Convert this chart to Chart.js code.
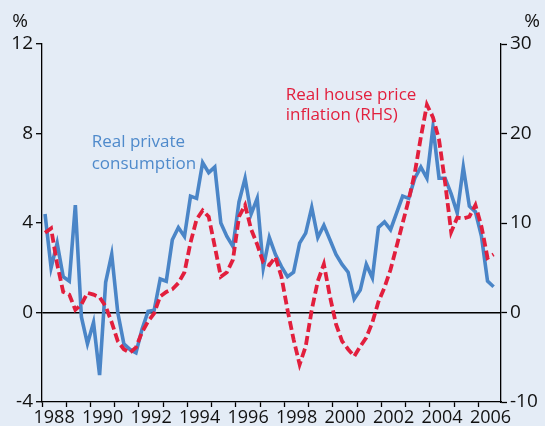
<!DOCTYPE html>
<html>
<head>
    <style>
        body {
            margin: 0;
            background-color: #e4ecf6;
        }
        #wrap {
            width: 545px;
            height: 426px;
        }
    </style>
    <script src="https://cdn.jsdelivr.net/npm/chart.js"></script>
</head>
<body>
    <div id="wrap"><canvas id="houseChart" width="545" height="426"></canvas></div>
    <script>
        // quarterly data, 1988 Q1 onwards
        var startYear = 1988;
        var consumption = [
            4.4, 2.0, 3.1, 1.6, 1.4, 4.8, -0.2, -1.4, -0.45, -2.8,
            1.35, 2.6, 0.0, -1.4, -1.65, -1.8, -0.75, 0.05, 0.1, 1.5,
            1.4, 3.25, 3.8, 3.4, 5.2, 5.1, 6.7, 6.25, 6.5, 4.0,
            3.4, 2.95, 4.95, 6.0, 4.4, 5.1, 2.0, 3.35, 2.6, 2.05,
            1.6, 1.8, 3.1, 3.55, 4.7, 3.35, 3.9, 3.25, 2.6, 2.15,
            1.8, 0.6, 1.0, 2.15, 1.55, 3.8, 4.05, 3.7, 4.45, 5.2,
            5.1, 6.0, 6.5, 6.0, 8.3, 6.0, 6.0, 5.3, 4.45, 6.5,
            4.75, 4.5, 3.4, 1.4, 1.15
        ];
        var housePrice = [
            8.9, 9.4, 5.4, 2.3, 2.0, 0.3, 0.9, 2.2, 2.0, 1.7,
            0.7, -1.1, -3.2, -4.1, -4.5, -3.9, -2.2, -1.0, -0.1, 1.8,
            2.3, 2.6, 3.3, 4.5, 7.8, 10.4, 11.4, 10.7, 7.4, 4.0,
            4.5, 5.9, 10.7, 12.0, 9.3, 7.6, 5.6, 5.3, 6.2, 4.0,
            0.3, -3.0, -5.8, -3.8, 0.3, 3.5, 5.4, 1.8, -1.3, -3.2,
            -4.1, -4.9, -3.8, -2.8, -1.1, 1.2, 2.8, 4.8, 7.4, 10.0,
            12.6, 15.6, 19.6, 23.2, 21.8, 19.3, 14.5, 9.0, 10.6, 10.5,
            10.7, 12.0, 9.6, 6.1, 6.5
        ];
        var leftTicks = [-4, 0, 4, 8, 12];
        var rightTicks = [-10, 0, 10, 20, 30];
        var firstLabelYear = 1988;
        var lastLabelYear = 2006;

        var blue = '#4a85c7';
        var red = '#e21f3d';
        var font = "'Open Sans', 'Noto Sans', sans-serif";

        // each quarter sits in the middle of its quarter of the year
        function toPoints(values) {
            return values.map(function (v, i) {
                return { x: startYear + (i + 0.5) / 4, y: v };
            });
        }

        // text annotations: the % signs and the two series names
        var notes = {
            id: 'notes',
            afterDraw: function (chart) {
                var c = chart.ctx;
                var x = chart.scales.x, y = chart.scales.y;
                c.save();
                c.font = '19px ' + font;
                c.fillStyle = '#111';
                c.textAlign = 'center';
                c.textBaseline = 'alphabetic';
                c.fillText('%', 20, 27);
                c.fillText('%', 532, 27);

                c.font = '17px ' + font;
                c.textAlign = 'left';
                c.fillStyle = '#4f8acb';
                c.fillText('Real private', x.getPixelForValue(1990.05), y.getPixelForValue(7.4));
                c.fillText('consumption', x.getPixelForValue(1990.05), y.getPixelForValue(6.42));
                c.fillStyle = red;
                c.fillText('Real house price', x.getPixelForValue(1998.05), y.getPixelForValue(9.48));
                c.fillText('inflation (RHS)', x.getPixelForValue(1998.05), y.getPixelForValue(8.6));
                c.restore();
            }
        };

        var ctx = document.getElementById('houseChart').getContext('2d');
        new Chart(ctx, {
            type: 'line',
            data: {
                datasets: [{
                    label: 'Real house price inflation (RHS)',
                    data: toPoints(housePrice),
                    yAxisID: 'y2',
                    borderColor: red,
                    borderWidth: 3.8,
                    borderDash: [9, 4],
                    pointRadius: 0,
                    tension: 0,
                    order: 0
                }, {
                    label: 'Real private consumption',
                    data: toPoints(consumption),
                    yAxisID: 'y',
                    borderColor: blue,
                    borderWidth: 3.6,
                    pointRadius: 0,
                    tension: 0,
                    order: 1
                }]
            },
            options: {
                responsive: false,
                animation: false,
                layout: { padding: { top: 44, left: 0, right: 0, bottom: 0 } },
                plugins: {
                    legend: { display: false },
                    tooltip: { enabled: false }
                },
                scales: {
                    x: {
                        type: 'linear',
                        min: 1988,
                        max: 2006.93,
                        afterBuildTicks: function (scale) {
                            var t = [];
                            for (var yr = firstLabelYear; yr <= lastLabelYear; yr++) {
                                t.push({ value: yr });
                                t.push({ value: yr + 0.5 });
                            }
                            scale.ticks = t;
                        },
                        afterFit: function (scale) { scale.height = 24; },
                        border: { display: true, color: '#000', width: 1.3 },
                        grid: {
                            drawOnChartArea: false,
                            tickLength: 5,
                            tickWidth: 1.3,
                            tickColor: function (c) {
                                return c.tick && c.tick.value % 1 === 0 ? '#000' : 'rgba(0,0,0,0)';
                            }
                        },
                        ticks: {
                            autoSkip: false,
                            maxRotation: 0,
                            padding: 0,
                            color: '#111',
                            font: { family: font, size: 18 },
                            callback: function (v) {
                                var yr = Math.floor(v);
                                if (v % 1 === 0.5 && yr % 2 === 0) return String(yr);
                                return '';
                            }
                        }
                    },
                    y: {
                        position: 'left',
                        min: -4,
                        max: 12,
                        afterBuildTicks: function (scale) {
                            scale.ticks = leftTicks.map(function (v) { return { value: v }; });
                        },
                        afterFit: function (scale) { scale.width = 42; },
                        border: { display: true, color: '#000', width: 1.3 },
                        grid: {
                            tickLength: 6,
                            tickWidth: 1.3,
                            tickColor: '#000',
                            lineWidth: 1.4,
                            color: function (c) {
                                return c.tick && c.tick.value === 0 ? '#000' : 'rgba(0,0,0,0)';
                            }
                        },
                        ticks: {
                            padding: 3,
                            color: '#111',
                            font: { family: font, size: 19 }
                        }
                    },
                    y2: {
                        position: 'right',
                        min: -10,
                        max: 30,
                        afterBuildTicks: function (scale) {
                            scale.ticks = rightTicks.map(function (v) { return { value: v }; });
                        },
                        afterFit: function (scale) { scale.width = 44; },
                        border: { display: true, color: '#000', width: 1.3 },
                        grid: {
                            drawOnChartArea: false,
                            tickLength: 6,
                            tickWidth: 1.3,
                            tickColor: '#000'
                        },
                        ticks: {
                            padding: 3,
                            color: '#111',
                            font: { family: font, size: 19 }
                        }
                    }
                }
            },
            plugins: [notes]
        });
    </script>
</body>
</html>
